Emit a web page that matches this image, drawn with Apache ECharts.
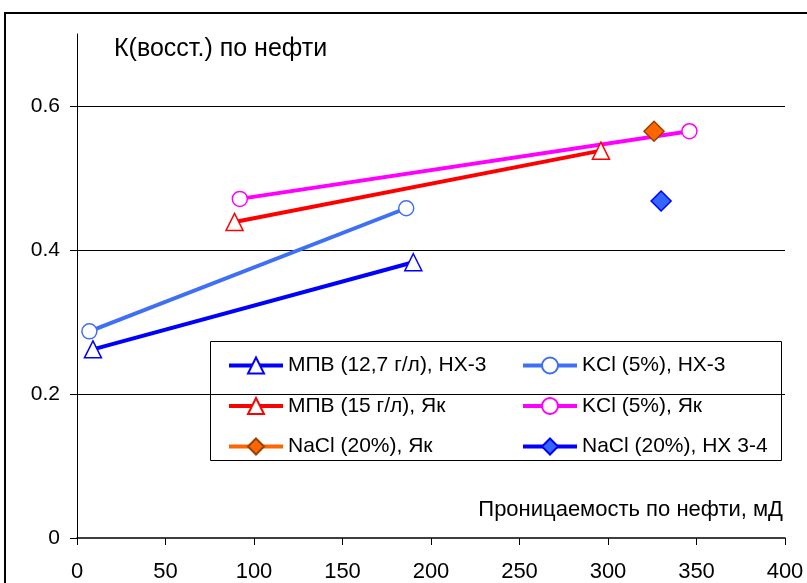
<!DOCTYPE html>
<html><head><meta charset="utf-8">
<script src="https://cdn.jsdelivr.net/npm/echarts@6/dist/echarts.min.js"></script>
<style>html,body{margin:0;padding:0;background:#fff}#c{width:807px;height:583px}</style>
</head><body><div id="c"></div>
<script>
const seriesNames = ['МПВ (12,7 г/л), НХ-3','KCl (5%), НХ-3','МПВ (15 г/л), Як','KCl (5%), Як','NaCl (20%), Як','NaCl (20%), НХ 3-4'];
const s1 = [[9, 0.262],[190, 0.383]];
const s2 = [[7, 0.287],[186, 0.458]];
const s3 = [[89, 0.439],[296, 0.538]];
const s4 = [[92, 0.471],[346, 0.565]];
const s5 = [[326, 0.565]];
const s6 = [[330, 0.468]];
const xTicks = [0,50,100,150,200,250,300,350,400];
const yTicks = [0,0.2,0.4,0.6];
const yTitle = 'К(восст.) по нефти';
const xTitle = 'Проницаемость по нефти, мД';

const FONT = 'Liberation Sans, Arial, sans-serif';
const chart = echarts.init(document.getElementById('c'));
function mk(name, data, color, symbol, size, fill, border, lw){
  return {name, type:'line', data, symbol, symbolSize:size, showSymbol:true,
    lineStyle:{color, width:lw}, itemStyle:{color:fill, borderColor:border, borderWidth:1.5, opacity:1},
    emphasis:{disabled:true}, z: 3};
}
const legendCommon = {orient:'vertical', top:350, itemWidth:54, itemHeight:20, itemGap:19.5,
  lineStyle:{width:4}, textStyle:{fontFamily:FONT, fontSize:21, color:'#000'}};
chart.setOption({
  animation:false,
  backgroundColor:'#fff',
  title:[
    {text:yTitle, left:109, top:32, textStyle:{fontFamily:FONT, fontSize:25, fontWeight:'normal', color:'#000'}},
    {text:xTitle, right:19, top:494, textStyle:{fontFamily:FONT, fontSize:22, fontWeight:'normal', color:'#000'}}
  ],
  grid:{left:77, right:22, top:34, bottom:45},
  xAxis:{type:'value', min:0, max:400, interval:50,
    axisLine:{show:true, onZero:false, lineStyle:{color:'#000', width:1.5}},
    axisTick:{show:true, inside:false, length:7, lineStyle:{color:'#000'}},
    axisLabel:{margin:23, fontFamily:FONT, fontSize:22, color:'#000', formatter:v=>xTicks.includes(v)?String(v):''},
    splitLine:{show:false}},
  yAxis:{type:'value', min:0, max:0.7, interval:0.2,
    axisLine:{show:true, lineStyle:{color:'#000', width:1}},
    axisTick:{show:true, length:7, lineStyle:{color:'#000'}},
    axisLabel:{margin:17, fontFamily:FONT, fontSize:21, color:'#000', showMaxLabel:false,
      formatter:v=>{const t=yTicks.find(a=>Math.abs(a-v)<1e-9); return t===undefined?'':String(t);}},
    splitLine:{show:true, showMinLine:false, showMaxLine:false, lineStyle:{color:'#000', width:1}}},
  legend:[
    Object.assign({left:222, data:[seriesNames[0],seriesNames[2],seriesNames[4]]}, legendCommon),
    Object.assign({left:516, data:[seriesNames[1],seriesNames[3],seriesNames[5]]}, legendCommon)
  ],
  graphic:[
    {type:'rect', shape:{x:5, y:13, width:830, height:620}, style:{fill:null, stroke:'#000', lineWidth:2}, silent:true, z:10},
    {type:'rect', shape:{x:210.5, y:341.5, width:571, height:119}, style:{fill:'#fff', stroke:'#000', lineWidth:1}, silent:true, z:-1, zlevel:0}
  ],
  series:[
    mk(seriesNames[0], s1, '#0000FF', 'triangle', 17, '#fff', '#0000FF', 4),
    mk(seriesNames[1], s2, '#3F6FF5', 'circle', 15, '#fff', '#3F6FF5', 4),
    mk(seriesNames[2], s3, '#FF0000', 'triangle', 17, '#fff', '#FF0000', 4),
    mk(seriesNames[3], s4, '#FF00FF', 'circle', 15, '#fff', '#FF00FF', 4),
    mk(seriesNames[4], s5, '#FF6600', 'diamond', 20, '#FF6600', '#994000', 4),
    mk(seriesNames[5], s6, '#0000FF', 'diamond', 20, '#3366FF', '#0000FF', 4)
  ]
});
</script></body></html>
